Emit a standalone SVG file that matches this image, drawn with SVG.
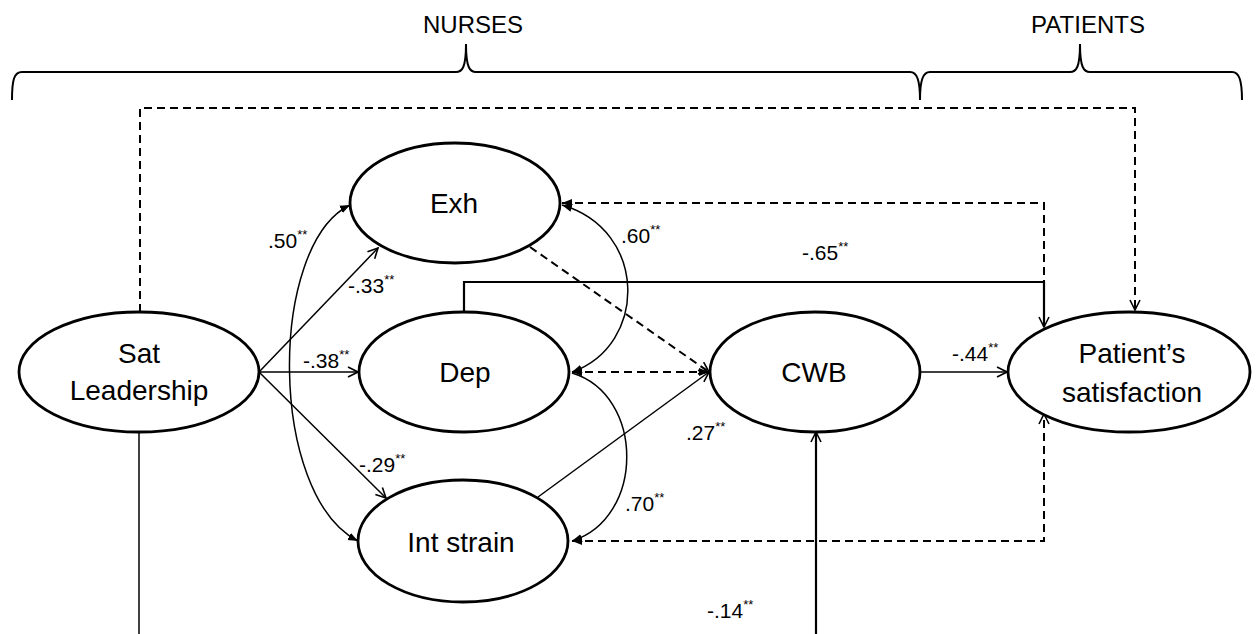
<svg xmlns="http://www.w3.org/2000/svg" width="1258" height="634" viewBox="0 0 1258 634">
<style>
text{font-family:"Liberation Sans",Arial,sans-serif;fill:#000}
.node{font-size:28px;text-anchor:middle}
.hdr{font-size:24px;text-anchor:middle}
.lbl{font-size:21px}
.st{font-size:13px}
ellipse{fill:#fff;stroke:#000;stroke-width:2.8}
.c{fill:none;stroke:#000;stroke-width:1.5}
.cb{fill:none;stroke:#000;stroke-width:2.2}
.d{fill:none;stroke:#000;stroke-width:2;stroke-dasharray:8 5}
.br{fill:none;stroke:#000;stroke-width:2}
</style>
<defs>
<marker id="open" viewBox="0 0 12 12" refX="11" refY="6" markerWidth="12" markerHeight="12" markerUnits="userSpaceOnUse" orient="auto"><path d="M1,1 L11,6 L1,11" fill="none" stroke="#000" stroke-width="1.6"/></marker>
<marker id="fill" viewBox="0 0 10 10" refX="10" refY="5" markerWidth="10" markerHeight="10" markerUnits="userSpaceOnUse" orient="auto-start-reverse"><path d="M0,1 L10,5 L0,9 z" fill="#000"/></marker>
</defs>
<g id="braces">
<path class="br" d="M12,100 C12,80 14,72 22,72 L456,72 C462,72 466,68 466,44 C466,68 470,72 476,72 L910,72 C917,72 920,80 920,100"/>
<path class="br" d="M920,100 C920,80 923,72 930,72 L1070,72 C1076,72 1080,68 1080,44 C1080,68 1084,72 1090,72 L1232,72 C1239,72 1242,80 1242,100"/>
<text class="hdr" x="473" y="33">NURSES</text>
<text class="hdr" x="1088" y="33">PATIENTS</text>
</g>
<g id="connectors">
<path class="d" d="M140,312 L140,108 L1135,108 L1135,310" marker-end="url(#open)"/>
<path class="c" d="M139,433 L139,634"/>
<path class="cb" d="M816,634 L816,432" marker-end="url(#open)"/>
<path class="c" d="M259,372 L378,248" marker-end="url(#open)"/>
<path class="c" d="M259,372 L358,372" marker-end="url(#open)"/>
<path class="c" d="M259,372 L386,498" marker-end="url(#open)"/>
<path class="c" d="M350,205 C268,245 268,495 358,541" marker-start="url(#fill)" marker-end="url(#fill)"/>
<path class="c" d="M562,205 C648,230 648,345 572,372" marker-start="url(#fill)" marker-end="url(#fill)"/>
<path class="c" d="M572,373 C645,395 645,518 572,541" marker-end="url(#fill)"/>
<path class="d" d="M572,372 L709,372" marker-start="url(#fill)" marker-end="url(#fill)"/>
<path class="d" d="M530,247 L709,372" marker-end="url(#open)"/>
<path class="c" d="M538,497 L709,372" marker-end="url(#open)"/>
<path class="d" d="M562,203 L1044,203 L1044,282" marker-start="url(#fill)"/>
<path class="d" d="M572,541 L1044,541 L1044,414" marker-start="url(#fill)" marker-end="url(#open)"/>
<path class="cb" d="M464,312 L464,282 L1044,282 L1044,327" marker-end="url(#open)"/>
<path class="c" d="M920,372 L1007,372" marker-end="url(#open)"/>
</g>
<g id="labels">
<text class="lbl" x="268" y="248">.50<tspan class="st" dy="-9">**</tspan></text>
<text class="lbl" x="348" y="293">-.33<tspan class="st" dy="-9">**</tspan></text>
<text class="lbl" x="303" y="368">-.38<tspan class="st" dy="-9">**</tspan></text>
<text class="lbl" x="359" y="472">-.29<tspan class="st" dy="-9">**</tspan></text>
<text class="lbl" x="621" y="243">.60<tspan class="st" dy="-9">**</tspan></text>
<text class="lbl" x="802" y="260">-.65<tspan class="st" dy="-9">**</tspan></text>
<text class="lbl" x="952" y="361">-.44<tspan class="st" dy="-9">**</tspan></text>
<text class="lbl" x="686" y="440">.27<tspan class="st" dy="-9">**</tspan></text>
<text class="lbl" x="625" y="511">.70<tspan class="st" dy="-9">**</tspan></text>
<text class="lbl" x="707" y="618">-.14<tspan class="st" dy="-9">**</tspan></text>
</g>
<g id="sat">
<ellipse cx="139" cy="372" rx="120" ry="60"/>
<text class="node" x="139" y="363">Sat</text>
<text class="node" x="139" y="400">Leadership</text>
</g>
<g id="exh">
<ellipse cx="455" cy="203" rx="105" ry="60"/>
<text class="node" x="454" y="213">Exh</text>
</g>
<g id="dep">
<ellipse cx="464" cy="372" rx="105" ry="60"/>
<text class="node" x="465" y="382">Dep</text>
</g>
<g id="intstrain">
<ellipse cx="463" cy="541" rx="105" ry="61"/>
<text class="node" x="461" y="552">Int strain</text>
</g>
<g id="cwb">
<ellipse cx="815" cy="372" rx="105" ry="60"/>
<text class="node" x="814" y="382">CWB</text>
</g>
<g id="patient">
<ellipse cx="1129" cy="372" rx="121" ry="60"/>
<text class="node" x="1132" y="363">Patient’s</text>
<text class="node" x="1132" y="402">satisfaction</text>
</g>
</svg>
